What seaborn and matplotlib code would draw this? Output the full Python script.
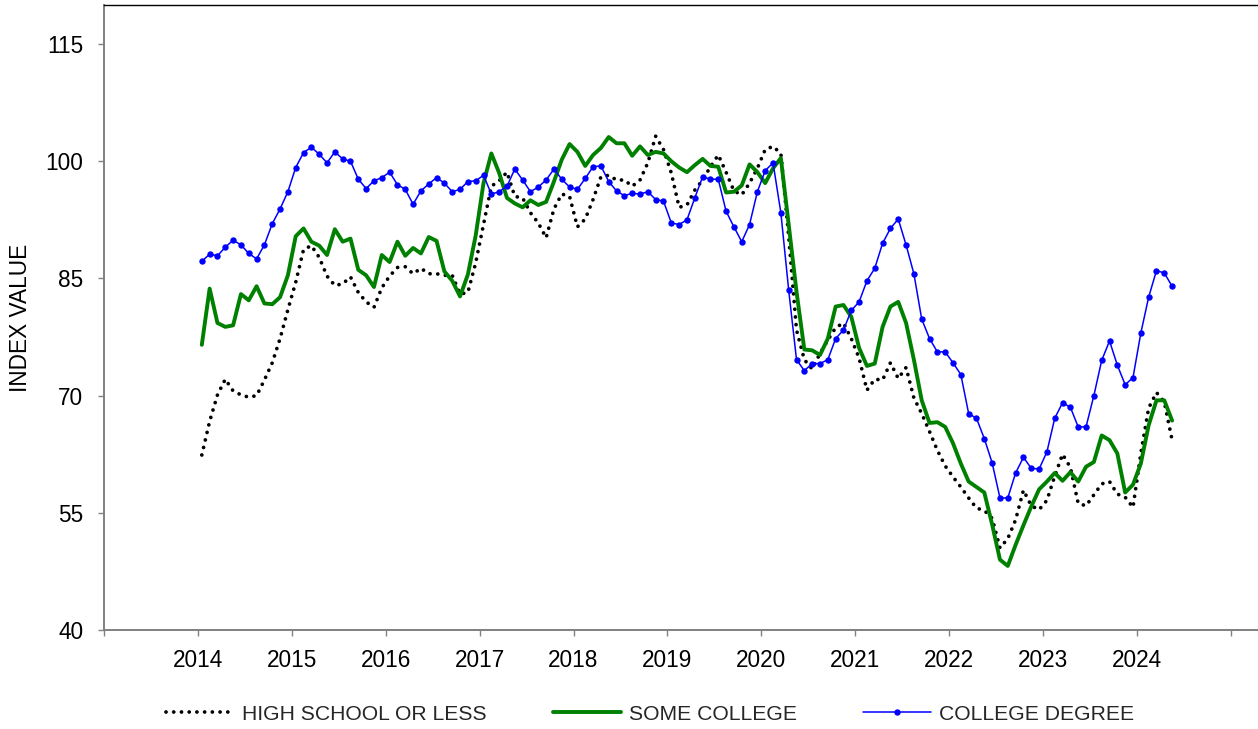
import numpy as np
import pandas as pd
import matplotlib
matplotlib.use("Agg")
import matplotlib.pyplot as plt
import seaborn as sns

months = pd.date_range("2014-01-01", "2024-05-01", freq="MS")

high_school = [
    62.4, 66.7, 70.1, 72.1, 70.6, 70.1, 69.8, 70.0, 72.0, 74.2, 77.3, 81.0,
    84.5, 88.7, 89.2, 87.7, 85.3, 84.1, 84.3, 85.2, 83.2, 82.0, 81.3, 83.8,
    85.3, 86.4, 86.5, 85.6, 86.3, 85.6, 85.6, 85.4, 85.4, 83.0, 83.2, 87.0,
    91.9, 96.8, 97.5, 98.6, 95.5, 95.3, 93.4, 92.1, 90.2, 93.9, 95.8, 95.5,
    91.6, 92.6, 95.1, 98.0, 98.2, 97.6, 97.6, 96.8, 97.6, 99.8, 103.2, 101.5,
    98.5, 94.1, 94.4, 96.3, 97.6, 99.3, 100.8, 98.6, 96.2, 95.7, 97.2, 99.1,
    101.5, 101.9, 101.0, 90.4, 78.4, 74.6, 73.4, 75.4, 77.1, 78.7, 79.3, 77.3,
    74.8, 70.7, 72.1, 72.0, 74.2, 72.2, 73.6, 69.7, 67.7, 65.4, 63.0, 61.0,
    59.6, 58.3, 56.9, 55.6, 55.3, 54.3, 50.5, 51.7, 54.1, 57.9, 55.9, 55.4,
    56.6, 59.7, 62.5, 60.8, 56.2, 55.9, 57.3, 58.7, 59.0, 57.4, 57.0, 55.7,
    62.6, 68.4, 70.4, 69.2, 64.3,
]

some_college = [
    76.5, 83.7, 79.3, 78.8, 79.0, 83.0, 82.2, 84.0, 81.8, 81.7, 82.6, 85.4,
    90.4, 91.4, 89.7, 89.2, 88.0, 91.3, 89.7, 90.1, 86.1, 85.4, 83.9, 88.0,
    87.1, 89.7, 87.9, 88.9, 88.2, 90.3, 89.8, 85.9, 84.7, 82.7, 85.5, 90.5,
    97.2, 101.0, 98.5, 95.3, 94.6, 94.1, 95.0, 94.4, 94.8, 97.4, 100.2, 102.2,
    101.2, 99.4, 100.8, 101.7, 103.1, 102.3, 102.3, 100.7, 101.9, 100.8, 101.2, 101.0,
    100.0, 99.2, 98.6, 99.5, 100.3, 99.4, 99.3, 96.0, 96.1, 96.9, 99.6, 98.6,
    97.2, 99.1, 100.4, 91.9, 83.3, 75.9, 75.8, 75.2, 77.3, 81.4, 81.6, 80.1,
    76.1, 73.8, 74.1, 78.8, 81.4, 82.0, 79.3, 74.6, 69.4, 66.5, 66.6, 66.0,
    63.9, 61.3, 59.0, 58.3, 57.6, 53.5, 49.0, 48.2, 50.9, 53.4, 55.8, 58.0,
    59.0, 60.1, 59.1, 60.2, 59.0, 60.9, 61.5, 64.9, 64.3, 62.6, 57.6, 58.6,
    61.3, 66.2, 69.4, 69.4, 66.8,
]

college_degree = [
    87.2, 88.1, 87.9, 89.0, 89.9, 89.3, 88.2, 87.5, 89.3, 92.0, 93.9, 96.1,
    99.2, 101.1, 101.8, 100.9, 99.8, 101.2, 100.3, 100.0, 97.7, 96.5, 97.5, 97.9,
    98.6, 97.0, 96.4, 94.5, 96.2, 97.1, 97.9, 97.2, 96.1, 96.4, 97.4, 97.5,
    98.2, 95.8, 96.1, 96.8, 99.0, 97.6, 96.1, 96.7, 97.6, 99.0, 97.7, 96.7,
    96.4, 97.8, 99.3, 99.4, 97.4, 96.2, 95.6, 95.9, 95.8, 96.1, 95.1, 94.9,
    92.1, 91.9, 92.5, 95.3, 98.0, 97.7, 97.7, 93.6, 91.6, 89.7, 91.9, 96.1,
    98.8, 99.8, 93.4, 83.5, 74.6, 73.2, 74.1, 74.1, 74.6, 77.3, 78.4, 80.9,
    82.0, 84.7, 86.3, 89.5, 91.4, 92.6, 89.3, 85.6, 79.8, 77.3, 75.6, 75.6,
    74.2, 72.7, 67.7, 67.1, 64.5, 61.4, 56.9, 56.9, 60.1, 62.1, 60.7, 60.6,
    62.8, 67.1, 69.1, 68.5, 66.0, 66.0, 70.0, 74.5, 77.0, 73.9, 71.4, 72.3,
    78.0, 82.6, 86.0, 85.7, 84.0,
]

series_names = ["HIGH SCHOOL OR LESS", "SOME COLLEGE", "COLLEGE DEGREE"]
x_ticks = list(range(2013, 2026))
x_tick_labels = [""] + [str(y) for y in range(2014, 2025)] + [""]
y_ticks = [40, 55, 70, 85, 100, 115]

sns.set_theme(style="white")
plt.rcParams["font.family"] = ["Liberation Sans", "DejaVu Sans"]

df = pd.DataFrame({
    "date": months,
    "hs": high_school,
    "sc": some_college,
    "cd": college_degree,
})
df["t"] = df["date"].dt.year + (df["date"].dt.month - 0.5) / 12.0

W, H = 1258, 729
fig = plt.figure(figsize=(W / 100, H / 100), dpi=100)
ax = fig.add_axes([104 / W, 99 / H, (W - 104) / W, 625 / H])

sns.lineplot(data=df, x="t", y="hs", ax=ax, color="black", linewidth=2.7,
             linestyle=(0, (0.01, 2.05)), dash_capstyle="round",
             label=series_names[0])
sns.lineplot(data=df, x="t", y="sc", ax=ax, color="#008000", linewidth=2.8,
             label=series_names[1])
sns.lineplot(data=df, x="t", y="cd", ax=ax, color="#0000FF", linewidth=1.1,
             marker="o", markersize=4.6, markeredgewidth=0,
             markerfacecolor="#0000FF", label=series_names[2])

ax.set_xlim(2013, 2013 + (W - 104) / 93.9)
ax.set_ylim(40, 120)
ax.set_xticks(x_ticks)
ax.set_xticklabels(x_tick_labels)
ax.set_yticks(y_ticks)
ax.set_xlabel("")
ax.set_ylabel("")

ax.tick_params(axis="both", which="major", bottom=True, left=True,
               direction="out", length=4.5, width=1.0, color="#808080",
               labelcolor="black", labelsize=16.3)
ax.tick_params(axis="y", pad=10.5)
ax.tick_params(axis="x", pad=9)

for side in ["left", "bottom"]:
    ax.spines[side].set_color("#808080")
    ax.spines[side].set_linewidth(1.4)
ax.spines["top"].set_color("black")
ax.spines["top"].set_linewidth(1.0)
ax.spines["right"].set_visible(False)
ax.grid(False)

fig.text(20.5 / W, 1 - 317.5 / H, "INDEX VALUE", rotation=90,
         ha="center", va="center", fontsize=16.3, color="black")

ax.legend(loc="center", bbox_to_anchor=(650 / W, 15 / H),
          bbox_transform=fig.transFigure, ncol=3, frameon=False,
          fontsize=15.2, handlelength=3.22, handletextpad=0.38,
          columnspacing=3.13)

fig.savefig("out.png", dpi=100)
